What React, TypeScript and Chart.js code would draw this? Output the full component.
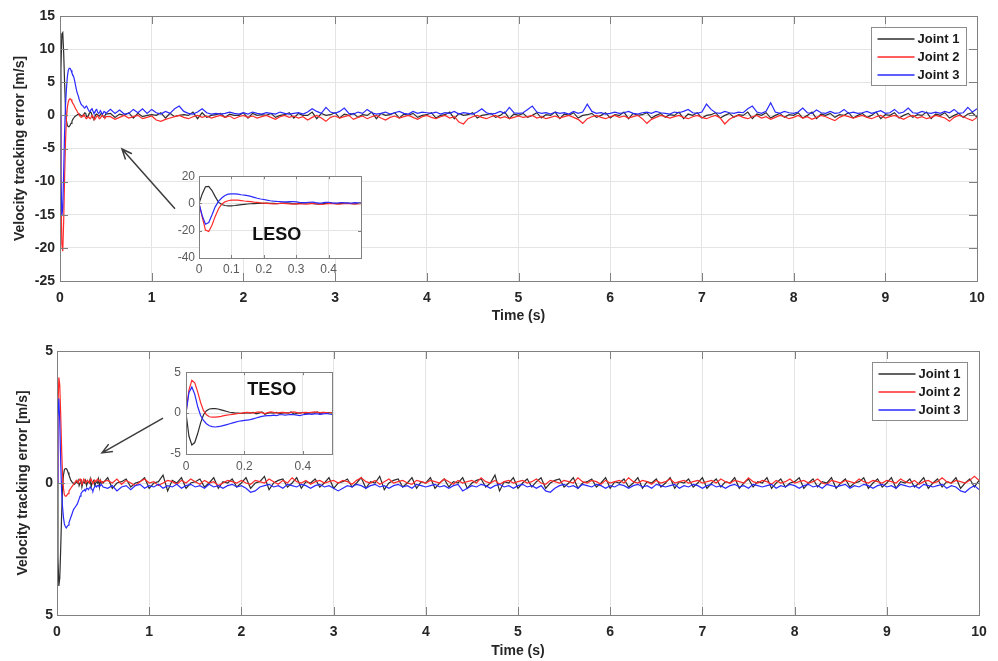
import React, { useEffect, useRef } from 'react';
import { Chart, registerables } from 'chart.js';
Chart.register(...registerables);

const FONT = "'Liberation Sans', Arial, sans-serif";

// ---------- time grids ----------
const tTransient = Array.from({ length: 51 }, (_, i) => i / 100); // 0 .. 0.50
const tSteady = Array.from({ length: 190 }, (_, i) => Math.round(55 + i * 5) / 100); // 0.55 .. 10.00

// ---------- axis ticks ----------
const timeTicks = [0, 1, 2, 3, 4, 5, 6, 7, 8, 9, 10];
const lesoYTicks = [-25, -20, -15, -10, -5, 0, 5, 10, 15];
const tesoYTicks = [-5, 0, 5];
const lesoInsetXTicks = [0, 0.1, 0.2, 0.3, 0.4];
const lesoInsetYTicks = [-40, -20, 0, 20];
const tesoInsetXTicks = [0, 0.2, 0.4];
const tesoInsetYTicks = [-5, 0, 5];
const jointNames = ['Joint 1', 'Joint 2', 'Joint 3'];

// ---------- LESO (top) ----------
const lesoJ1Transient = [
  0, 7, 12.3, 12.5, 9.5, 5, 1, -0.8, -1.5, -1.7,
  -1.7, -1.5, -1.2, -0.9, -0.6, -0.4, -0.2, -0.1, 0, 0.1,
  0.1, 0.2, 0.1, 0, -0.1, 0, 0.2, 0.4, 0.3, -0.2,
  -0.3, 0, 0.3, 0.5, 0.4, 0, -0.4, -0.5, -0.2, 0.1,
  0.2, 0.1, 0, -0.1, 0.1, 0.3, 0.2, -0.2, -0.3, 0,
  0.2,
];
const lesoJ2Transient = [
  0, -10, -19.5, -20.5, -16, -9.5, -4, -0.5, 1.2, 2.0,
  2.4, 2.5, 2.4, 2.1, 1.8, 1.6, 1.3, 1.0, 0.8, 0.5,
  0.3, 0.1, -0.2, -0.3, -0.2, 0, 0.1, -0.1, -0.4, -0.5,
  -0.3, -0.2, -0.4, -0.5, -0.3, 0, -0.2, -0.5, -0.6, -0.4,
  -0.1, 0, -0.3, -0.5, -0.4, -0.2, 0, -0.1, -0.3, -0.4,
  -0.2,
];
const lesoJ3Transient = [
  0, -9, -15.2, -14, -8.5, -2.5, 1.5, 4, 5.8, 6.8,
  7.1, 7.1, 6.8, 6.4, 6.1, 5.8, 5.2, 4.5, 3.8, 3.3,
  2.9, 2.4, 2.0, 1.7, 1.5, 1.4, 1.2, 1.1, 1.3, 1.4,
  1.1, 0.8, 0.6, 0.6, 0.9, 1.0, 0.6, 0.3, 0.4, 0.8,
  0.9, 0.5, 0.3, 0.4, 0.7, 0.5, 0.2, 0.3, 0.6, 0.5,
  0.3,
];
const lesoJ1Steady = [
  0.3, -0.3, 0.2, 0, 0.4, -0.4, 0.3, -0.2, 0, 0.1,
  0, 0.4, -0.4, 0.3, -0.2, 0, 0.1, 0, 0.5, -0.5, 0.4, -0.3, 0, 0.1, 0.3, -0.3, 0.2, 0, 0, 0.4,
  -0.4, 0.3, 0, 0.1, 0, 0.3, -0.3, 0, 0.1, 0.4, -0.4, 0.3, 0, 0, 0.5, -0.5, 0.3, 0, 0.1, 0.4,
  -0.4, 0.2, 0, 0.3, -0.3, 0.1, 0, 0.5, -0.5, 0.3, 0, 0.1, 0.4, -0.4, 0.2, 0, 0.3, -0.3, 0, 0.1,
  0.4, -0.4, 0, 0.1, 0.5, -0.5, 0.3, 0, 0.1, 0.4, -0.4, 0, 0.1, 0.3, -0.3, 0, 0.5, -0.5, 0.2, 0,
  0.3, -0.3, 0, 0.4, -0.4, 0.1, 0, 0.5, -0.5, 0.2, 0, 0.4, -0.4, 0, 0.1, 0.3, -0.3, 0, 0.4, -0.4,
  0.1, 0, 0.5, -0.5, 0.3, 0, 0.1, 0.4, -0.4, 0, 0.3, -0.3, 0.1, 0, 0.5, -0.5, 0.2, 0, 0.4, -0.4,
  0, 0.1, 0.4, -0.4, 0, 0.3, -0.3, 0.1, 0, 0.5, -0.5, 0.2, 0, 0.4, -0.4, 0, 0.3, -0.3, 0.1, 0,
  0.4, -0.4, 0, 0.5, -0.5, 0.2, 0, 0.3, -0.3, 0.1, 0, 0.4, -0.4, 0, 0.3, -0.3, 0, 0.5, -0.5, 0.1,
  0, 0.4, -0.4, 0, 0.3, -0.3, 0.1, 0, 0.5, -0.5, 0.2, 0, 0.4, -0.4, 0, 0.3, -0.3, 0.2, 0.4, -0.3,
];
const lesoJ2Steady = [
  -0.2, -0.6, -0.3, 0, -0.4, -0.2, 0, -0.5, -0.3, -0.1,
  -0.7, -0.9, -0.6, -0.4, -0.2, 0, -0.3, -0.5, -0.2, 0, -0.3, -0.1, -0.4, -0.2, 0, -0.3, -0.1, -0.5, -0.2, 0,
  -0.3, -0.1, -0.4, -0.2, 0, -0.3, -0.6, -0.2, 0, -0.3, -0.1, -0.4, -0.2, -0.7, -0.3, 0, -0.4, -0.9, -0.3, -0.1,
  -0.4, -0.2, 0, -0.6, -0.3, -0.1, -0.5, -0.2, 0, -0.4, -0.7, -0.3, -0.1, -0.4, -0.2, 0, -0.3, -0.6, -0.2, 0,
  -0.3, -0.5, -0.2, 0, -0.4, -0.2, -1.0, -1.3, -0.5, -0.2, 0, -0.3, -0.5, -0.2, 0, -0.4, -0.2, -0.5, -0.3, -0.1,
  -0.3, -0.2, 0, -0.4, -0.2, -0.5, -0.3, -0.1, -0.4, -0.2, 0, -0.3, -0.6, -1.2, -0.5, -0.2, 0, -0.3, -0.5, -0.2,
  0, -0.3, -0.1, -0.4, -0.2, 0, -0.5, -1.2, -0.6, -0.3, 0, -0.2, -0.4, -0.2, 0, -0.3, -0.5, -0.2, 0, -0.3,
  -0.5, -0.2, 0, -0.4, -1.3, -0.6, -0.2, 0, -0.3, -0.5, -0.2, 0, -0.4, -0.2, -0.6, -0.3, 0, -0.2, -0.5, -0.3,
  0, -0.4, -0.2, -0.6, -0.3, 0, -0.2, -0.5, -0.8, -0.3, 0, -0.2, -0.4, -0.2, 0, -0.3, -0.5, -0.2, 0, -0.4,
  -0.2, 0, -0.3, -0.6, -0.2, 0, -0.4, -0.2, -0.5, -0.3, 0, -0.2, -0.4, -0.9, -0.3, 0, -0.2, -0.5, -0.8, -0.3,
];
const lesoJ3Steady = [
  0.9, 0.3, 0.8, 0.2, 0.3, 0.9, 0.4, 1.0, 0.3, 0.9,
  0.4, 0.2, 0.6, 0.3, 1.0, 1.4, 0.6, 0.3, 0.2, 0.5, 1.0, 0.4, 0.2, 0.3, 0.2, 0.3, 0.5, 0.3, 0.2, 0.4,
  0.2, 0.5, 0.3, 0.2, 0.4, 0.3, 0.2, 0.5, 0.3, 0.2, 0.3, 0.4, 0.2, 0.5, 1.0, 0.6, 0.3, 1.2, 0.5, 0.3,
  0.6, 1.1, 0.3, 0.2, 0.5, 0.3, 0.9, 0.4, 0.2, 0.3, 0.5, 0.2, 0.4, 0.6, 0.3, 0.2, 0.6, 0.3, 0.5, 0.4,
  0.3, 0.5, 0.2, 0.4, 0.3, 0.6, 0.2, 0.4, 0.3, 0.2, 0.5, 1.0, 0.4, 0.2, 0.3, 0.6, 0.3, 1.2, 0.4, 0.3,
  0.4, 0.9, 1.4, 0.5, 0.3, 0.4, 0.2, 0.5, 0.3, 0.4, 0.2, 0.6, 0.3, 0.5, 1.7, 0.6, 0.3, 0.4, 0.2, 0.3,
  0.5, 0.3, 0.4, 0.6, 0.3, 0.2, 0.4, 0.5, 0.3, 0.6, 0.4, 0.3, 0.2, 0.5, 0.4, 0.6, 0.9, 0.4, 0.3, 0.5,
  1.7, 0.9, 0.4, 0.3, 0.6, 0.4, 0.3, 0.5, 0.4, 1.0, 1.4, 0.5, 0.3, 0.6, 1.9, 0.5, 0.3, 0.6, 0.4, 0.3,
  0.5, 1.1, 0.4, 0.3, 0.8, 0.4, 0.3, 0.6, 0.3, 0.4, 0.9, 0.3, 0.5, 0.3, 0.4, 0.6, 0.3, 0.5, 0.7, 0.3,
  0.4, 0.9, 0.3, 0.5, 1.1, 0.4, 0.3, 0.6, 0.4, 0.3, 0.5, 0.3, 0.6, 0.4, 0.9, 0.3, 0.4, 1.2, 0.5, 1.0,
];

// ---------- TESO (bottom) ----------
const tesoJ1Transient = [
  0, -2.8, -3.9, -3.6, -2.5, -1.2, -0.2, 0.3, 0.5, 0.55,
  0.55, 0.5, 0.4, 0.3, 0.2, 0.1, 0.05, 0, 0, -0.05,
  0, 0.05, 0, 0.1, -0.1, 0, 0.15, -0.15, 0, 0.05,
  0, 0.1, -0.1, 0, 0.05, 0, 0.15, -0.15, 0, 0,
  0.1, -0.1, 0, 0.05, 0, 0.15, -0.15, 0.1, 0, 0.05,
  0,
];
const tesoJ2Transient = [
  0, 2.8, 4.0, 3.7, 2.6, 1.3, 0.3, -0.2, -0.45, -0.5,
  -0.5, -0.45, -0.4, -0.3, -0.25, -0.2, -0.15, -0.1, -0.05, 0,
  0.05, 0.1, 0.05, 0, 0.1, 0.15, 0.05, -0.05, 0.05, 0.15,
  0.1, 0, 0.05, 0.1, 0.05, 0, 0.1, 0.15, 0.05, 0,
  0.05, 0.1, 0.05, 0.1, 0.15, 0.1, 0.05, 0.1, 0.05, 0,
  0.05,
];
const tesoJ3Transient = [
  0, 2.5, 3.2, 2.3, 0.8, -0.3, -0.9, -1.3, -1.55, -1.65,
  -1.7, -1.65, -1.6, -1.5, -1.4, -1.3, -1.2, -1.1, -1.0, -0.95,
  -0.9, -0.85, -0.8, -0.7, -0.6, -0.5, -0.4, -0.35, -0.3, -0.3,
  -0.25, -0.3, -0.2, -0.2, -0.25, -0.2, -0.15, -0.2, -0.25, -0.3,
  -0.2, -0.15, -0.1, -0.15, -0.1, -0.1, -0.15, -0.1, -0.05, -0.1,
  -0.15,
];
const tesoJ1Steady = [
  0.2, -0.2, 0, 0.05, 0.15, -0.15, 0, 0.05, 0.2, -0.2,
  0, 0.05, 0.3, -0.3, 0.1, 0, 0.2, -0.2, 0, 0.05, 0.15, -0.15, 0, 0.2, -0.2, 0.05, 0, 0.15, -0.15, 0,
  0.2, -0.2, 0, 0.05, 0.25, -0.25, 0, 0.1, 0.15, -0.15, 0, 0.2, -0.2, 0.05, 0, 0.15, -0.15, 0, 0.2, -0.2,
  0, 0.05, 0.15, -0.15, 0, 0.2, -0.2, 0.05, 0, 0.25, -0.25, 0, 0.1, 0.15, -0.15, 0, 0.2, -0.2, 0.05, 0,
  0.2, -0.2, 0, 0.15, -0.15, 0.05, 0, 0.2, -0.2, 0, 0.1, 0.15, -0.15, 0, 0.3, -0.3, 0.05, 0, 0.2, -0.2,
  0, 0.15, -0.15, 0.05, 0.2, -0.2, 0, 0.1, 0.15, -0.15, 0, 0.2, -0.2, 0, 0.05, 0.15, -0.15, 0, 0.2, -0.2,
  0.05, 0, 0.15, -0.15, 0, 0.2, -0.2, 0.05, 0, 0.15, -0.15, 0, 0.2, -0.2, 0.05, 0, 0.15, -0.15, 0, 0.2,
  -0.2, 0, 0.15, -0.15, 0.05, 0, 0.2, -0.2, 0, 0.15, -0.15, 0.05, 0, 0.2, -0.2, 0, 0.15, -0.15, 0, 0.05,
  0.2, -0.2, 0, 0.15, -0.15, 0.05, 0, 0.2, -0.2, 0, 0.15, -0.15, 0, 0.05, 0.2, -0.2, 0, 0.15, -0.15, 0,
  0.2, -0.2, 0.05, 0, 0.15, -0.15, 0, 0.2, -0.2, 0, 0.15, -0.15, 0.05, 0, 0.2, -0.2, 0, 0.15, -0.15, 0.1,
];
const tesoJ2Steady = [
  0.1, 0, 0.15, -0.05, 0.1, 0, -0.1, 0.05, 0.15, 0,
  0.05, -0.1, 0, 0.1, 0.05, -0.05, 0.1, 0, 0.15, 0.05, -0.05, 0.1, 0, 0.05, -0.1, 0, 0.1, 0.05, 0, 0.1,
  0, -0.05, 0.1, 0.05, 0, 0.15, 0.05, -0.05, 0.1, 0, 0.2, 0.05, 0, 0.1, -0.05, 0.05, 0.1, 0, 0.05, 0.1,
  0, 0.1, 0.05, -0.05, 0.1, 0.2, 0.05, 0, 0.1, -0.05, 0.05, 0.15, 0, 0.05, 0.1, 0, -0.05, 0.1, 0.05, 0,
  0.1, 0.05, 0, 0.15, 0.05, -0.05, 0.1, 0, 0.05, 0.1, 0, 0.2, 0.05, 0, 0.1, -0.05, 0.05, 0.1, 0, 0.05,
  0.1, 0, 0.05, 0.15, 0, -0.05, 0.1, 0.05, 0, 0.1, 0.05, 0, 0.2, 0.05, 0, 0.1, 0.05, -0.05, 0.1, 0,
  0.05, 0.1, 0, 0.2, 0.05, 0, 0.1, 0.05, -0.05, 0.1, 0, 0.05, 0.15, 0, 0.05, 0.1, 0, 0.05, 0.1, 0,
  0.05, 0.1, 0, 0.15, 0.05, 0, 0.1, 0.05, 0, 0.2, 0.05, 0, 0.1, 0.05, -0.05, 0.1, 0, 0.05, 0.15, 0,
  0.05, 0.1, 0, 0.05, 0.15, 0, -0.05, 0.1, 0.05, 0, 0.1, 0.05, 0, 0.15, 0.05, 0, 0.1, 0.05, 0, 0.1,
  0.05, 0, 0.15, 0.05, 0, 0.1, -0.05, 0.05, 0.1, 0, 0.05, 0.2, 0.05, 0, 0.1, 0.05, 0, 0.1, 0.25, 0.1,
];
const tesoJ3Steady = [
  -0.2, -0.1, -0.3, -0.15, -0.1, -0.25, -0.1, -0.05, -0.2, -0.1,
  -0.15, -0.05, -0.2, -0.1, -0.15, -0.05, -0.2, -0.1, -0.05, -0.15, -0.1, -0.2, -0.05, -0.15, -0.1, -0.2, -0.1, -0.05, -0.15, -0.1,
  -0.2, -0.35, -0.3, -0.15, -0.1, -0.05, -0.15, -0.1, -0.2, -0.05, -0.1, -0.15, -0.05, -0.1, -0.2, -0.1, -0.05, -0.15, -0.1, -0.2,
  -0.3, -0.2, -0.1, -0.15, -0.05, -0.1, -0.2, -0.1, -0.05, -0.15, -0.1, -0.2, -0.1, -0.05, -0.15, -0.1, -0.2, -0.05, -0.1, -0.15,
  -0.1, -0.05, -0.15, -0.1, -0.2, -0.1, -0.05, -0.3, -0.2, -0.1, -0.15, -0.05, -0.1, -0.2, -0.1, -0.05, -0.15, -0.1, -0.2, -0.1,
  -0.05, -0.15, -0.1, -0.2, -0.1, -0.3, -0.35, -0.2, -0.1, -0.05, -0.15, -0.1, -0.2, -0.05, -0.1, -0.15, -0.05, -0.1, -0.2, -0.1,
  -0.15, -0.05, -0.1, -0.2, -0.1, -0.05, -0.15, -0.1, -0.2, -0.05, -0.1, -0.15, -0.1, -0.05, -0.2, -0.1, -0.15, -0.05, -0.1, -0.2,
  -0.1, -0.05, -0.15, -0.1, -0.2, -0.1, -0.05, -0.15, -0.1, -0.2, -0.05, -0.1, -0.15, -0.1, -0.05, -0.2, -0.1, -0.15, -0.05, -0.1,
  -0.2, -0.1, -0.05, -0.15, -0.1, -0.2, -0.05, -0.1, -0.15, -0.1, -0.05, -0.2, -0.1, -0.15, -0.05, -0.1, -0.2, -0.1, -0.05, -0.15,
  -0.1, -0.2, -0.05, -0.1, -0.15, -0.1, -0.2, -0.05, -0.1, -0.15, -0.1, -0.05, -0.2, -0.1, -0.15, -0.3, -0.35, -0.2, -0.1, -0.25,
];

// ---------- annotations (data coordinates) ----------
const lesoArrow = { from: [1.254, -14.1], to: [0.676, -5.07] };
const tesoArrow = { from: [1.15, 2.46], to: [0.488, 1.14] };
const lesoLabel = { text: 'LESO', x: 0.24, y: -23.5 };
const tesoLabel = { text: 'TESO', x: 0.294, y: 2.86 };

// ---------- styles ----------
const COLORS = ['#2e2e2e', '#ff2a2a', '#2a2aff'];
const GRID = '#e4e4e4';
const FRAME = '#808080';
const TICK_TXT = '#262626';
const INSET_TXT = '#5a5a5a';

function series(trans: number[], steady: number[], withSteady = true) {
  const pts = tTransient.map((t, i) => ({ x: t, y: trans[i] }));
  if (withSteady) tSteady.forEach((t, i) => { if (steady[i] !== undefined) pts.push({ x: t, y: steady[i] }); });
  return pts;
}

function datasets(sets: { x: number; y: number }[][]) {
  return sets.map((d, i) => ({
    label: jointNames[i],
    data: d,
    borderColor: COLORS[i],
    borderWidth: 1.2,
    pointRadius: 0,
    tension: 0,
    order: 2 - i,
  }));
}

function framePlugin(tickLen: number) {
  return {
    id: 'frameTicks',
    beforeDraw(chart: any) {
      const { ctx, chartArea: a } = chart;
      ctx.save();
      ctx.fillStyle = '#ffffff';
      ctx.fillRect(a.left, a.top, a.right - a.left, a.bottom - a.top);
      ctx.restore();
    },
    afterDatasetsDraw(chart: any) {
      const { ctx, chartArea: a, scales } = chart;
      ctx.save();
      ctx.strokeStyle = FRAME;
      ctx.lineWidth = 1;
      ctx.beginPath();
      for (const t of scales.x.ticks) {
        const px = Math.round(scales.x.getPixelForValue(t.value)) + 0.5;
        ctx.moveTo(px, a.bottom); ctx.lineTo(px, a.bottom - tickLen);
        ctx.moveTo(px, a.top); ctx.lineTo(px, a.top + tickLen);
      }
      for (const t of scales.y.ticks) {
        const py = Math.round(scales.y.getPixelForValue(t.value)) + 0.5;
        ctx.moveTo(a.left, py); ctx.lineTo(a.left + tickLen, py);
        ctx.moveTo(a.right, py); ctx.lineTo(a.right - tickLen, py);
      }
      ctx.stroke();
      ctx.strokeRect(Math.round(a.left) + 0.5, Math.round(a.top) + 0.5,
        Math.round(a.right - a.left), Math.round(a.bottom - a.top));
      ctx.restore();
    },
  };
}

function legendPlugin(offRight: number, offTop: number) {
  return {
    id: 'boxLegend',
    afterDraw(chart: any) {
      const { ctx, chartArea: a } = chart;
      const w = 95, h = 58;
      const left = Math.round(a.right - offRight - w) + 0.5;
      const top = Math.round(a.top + offTop) + 0.5;
      ctx.save();
      ctx.fillStyle = '#ffffff';
      ctx.fillRect(left, top, w, h);
      ctx.strokeStyle = '#8c8c8c';
      ctx.lineWidth = 1;
      ctx.strokeRect(left, top, w, h);
      ctx.font = `bold 13px ${FONT}`;
      ctx.textBaseline = 'middle';
      ctx.fillStyle = '#1a1a1a';
      jointNames.forEach((name, i) => {
        const y = top + 11.5 + i * 18;
        ctx.strokeStyle = COLORS[i];
        ctx.lineWidth = 1.3;
        ctx.beginPath();
        ctx.moveTo(left + 6, y); ctx.lineTo(left + 43, y);
        ctx.stroke();
        ctx.fillText(name, left + 46, y + 0.5);
      });
      ctx.restore();
    },
  };
}

function arrowPlugin(arrow: { from: number[]; to: number[] }) {
  return {
    id: 'arrow',
    afterDraw(chart: any) {
      const { ctx, scales: { x, y } } = chart;
      const x0 = x.getPixelForValue(arrow.from[0]), y0 = y.getPixelForValue(arrow.from[1]);
      const x1 = x.getPixelForValue(arrow.to[0]), y1 = y.getPixelForValue(arrow.to[1]);
      const ang = Math.atan2(y1 - y0, x1 - x0);
      const len = 11, spread = 0.4;
      ctx.save();
      ctx.strokeStyle = '#3c3c3c';
      ctx.lineWidth = 1.5;
      ctx.beginPath();
      ctx.moveTo(x0, y0); ctx.lineTo(x1, y1);
      ctx.moveTo(x1 - len * Math.cos(ang - spread), y1 - len * Math.sin(ang - spread));
      ctx.lineTo(x1, y1);
      ctx.lineTo(x1 - len * Math.cos(ang + spread), y1 - len * Math.sin(ang + spread));
      ctx.stroke();
      ctx.restore();
    },
  };
}

function labelPlugin(lbl: { text: string; x: number; y: number }) {
  return {
    id: 'insetLabel',
    afterDraw(chart: any) {
      const { ctx, scales: { x, y } } = chart;
      ctx.save();
      ctx.font = `bold 18px ${FONT}`;
      ctx.fillStyle = '#111111';
      ctx.textAlign = 'center';
      ctx.textBaseline = 'middle';
      ctx.fillText(lbl.text, x.getPixelForValue(lbl.x), y.getPixelForValue(lbl.y));
      ctx.restore();
    },
  };
}

function mainConfig(opts: any) {
  const tickFont = { family: FONT, size: 14, weight: 'bold' as const };
  return {
    type: 'line',
    data: { datasets: datasets(opts.sets) },
    options: {
      responsive: false,
      animation: false,
      devicePixelRatio: 1,
      events: [],
      layout: { padding: opts.padding },
      plugins: { legend: { display: false }, tooltip: { enabled: false } },
      scales: {
        x: {
          type: 'linear', min: 0, max: 10,
          afterBuildTicks: (s: any) => { s.ticks = timeTicks.map((v) => ({ value: v })); },
          afterFit: (s: any) => { s.height = opts.xHeight; },
          grid: { color: GRID, drawTicks: false, lineWidth: 1 },
          border: { display: false },
          ticks: { font: tickFont, color: TICK_TXT, padding: 9, maxRotation: 0, autoSkip: false, callback: (v: number) => String(v) },
          title: { display: true, text: 'Time (s)', font: tickFont, color: TICK_TXT, padding: { top: 0, bottom: opts.xTitlePad } },
        },
        y: {
          type: 'linear', min: opts.yMin, max: opts.yMax,
          afterBuildTicks: (s: any) => { s.ticks = opts.yTicks.map((v: number) => ({ value: v })); },
          afterFit: (s: any) => { s.width = opts.yWidth; },
          grid: { color: GRID, drawTicks: false, lineWidth: 1 },
          border: { display: false },
          ticks: { font: tickFont, color: TICK_TXT, padding: opts.yTickPad, autoSkip: false, callback: opts.yLabel },
          title: { display: true, text: 'Velocity tracking error [m/s]', font: tickFont, color: TICK_TXT, padding: { top: opts.yTitlePad, bottom: 0 } },
        },
      },
    },
    plugins: [framePlugin(8), arrowPlugin(opts.arrow), legendPlugin(opts.legendRight, 11)],
  };
}

function insetConfig(opts: any) {
  const tickFont = { family: FONT, size: 12 };
  return {
    type: 'line',
    data: { datasets: datasets(opts.sets) },
    options: {
      responsive: false,
      animation: false,
      devicePixelRatio: 1,
      events: [],
      layout: { padding: opts.padding },
      plugins: { legend: { display: false }, tooltip: { enabled: false } },
      scales: {
        x: {
          type: 'linear', min: 0, max: 0.5,
          afterBuildTicks: (s: any) => { s.ticks = opts.xTicks.map((v: number) => ({ value: v })); },
          afterFit: (s: any) => { s.height = opts.xHeight; },
          grid: { color: GRID, drawTicks: false, lineWidth: 1 },
          border: { display: false },
          ticks: { font: tickFont, color: INSET_TXT, padding: opts.xTickPad, maxRotation: 0, autoSkip: false, callback: (v: number) => String(v) },
        },
        y: {
          type: 'linear', min: opts.yMin, max: opts.yMax,
          afterBuildTicks: (s: any) => { s.ticks = opts.yTicks.map((v: number) => ({ value: v })); },
          afterFit: (s: any) => { s.width = opts.yWidth; },
          grid: { color: GRID, drawTicks: false, lineWidth: 1 },
          border: { display: false },
          ticks: { font: tickFont, color: INSET_TXT, padding: opts.yTickPad, autoSkip: false, callback: (v: number) => String(v) },
        },
      },
    },
    plugins: [framePlugin(3), labelPlugin(opts.label)],
  };
}

export default function App() {
  const topRef = useRef<HTMLCanvasElement>(null);
  const botRef = useRef<HTMLCanvasElement>(null);
  const lesoRef = useRef<HTMLCanvasElement>(null);
  const tesoRef = useRef<HTMLCanvasElement>(null);

  useEffect(() => {
    const lesoSets = [
      series(lesoJ1Transient, lesoJ1Steady),
      series(lesoJ2Transient, lesoJ2Steady),
      series(lesoJ3Transient, lesoJ3Steady),
    ];
    const tesoSets = [
      series(tesoJ1Transient, tesoJ1Steady),
      series(tesoJ2Transient, tesoJ2Steady),
      series(tesoJ3Transient, tesoJ3Steady),
    ];
    const charts: Chart[] = [];
    charts.push(new Chart(topRef.current as any, mainConfig({
      sets: lesoSets, padding: { top: 16, right: 21, left: 0, bottom: 0 },
      xHeight: 49, yWidth: 60, yMin: -25, yMax: 15, yTicks: lesoYTicks,
      yTickPad: 5, yTitlePad: 12, xTitlePad: 5,
      yLabel: (v: number) => String(v), arrow: lesoArrow, legendRight: 11,
    }) as any));
    charts.push(new Chart(botRef.current as any, mainConfig({
      sets: tesoSets, padding: { top: 21, right: 19, left: 0, bottom: 0 },
      xHeight: 46, yWidth: 57, yMin: -5, yMax: 5, yTicks: tesoYTicks,
      yTickPad: 4, yTitlePad: 15, xTitlePad: 1,
      yLabel: (v: number) => String(Math.abs(v)), arrow: tesoArrow, legendRight: 12,
    }) as any));
    charts.push(new Chart(lesoRef.current as any, insetConfig({
      sets: lesoSets.map((s) => s.filter((p) => p.x <= 0.5)),
      padding: { top: 9, right: 9, left: 0, bottom: 0 },
      xHeight: 22, yWidth: 49, yMin: -40, yMax: 20,
      xTicks: lesoInsetXTicks, yTicks: lesoInsetYTicks,
      xTickPad: 4, yTickPad: 4, label: lesoLabel,
    }) as any));
    charts.push(new Chart(tesoRef.current as any, insetConfig({
      sets: tesoSets.map((s) => s.filter((p) => p.x <= 0.5)),
      padding: { top: 10, right: 8, left: 0, bottom: 0 },
      xHeight: 21, yWidth: 46, yMin: -5, yMax: 5,
      xTicks: tesoInsetXTicks, yTicks: tesoInsetYTicks,
      xTickPad: 5, yTickPad: 5, label: tesoLabel,
    }) as any));
    return () => charts.forEach((c) => c.destroy());
  }, []);

  const abs = (left: number, top: number) => ({ position: 'absolute' as const, left, top });
  return (
    <div style={{ position: 'absolute', left: 0, top: 0, width: 998, height: 661, overflow: 'hidden', background: '#ffffff' }}>
      <canvas ref={topRef} width={998} height={330} style={abs(0, 0)} />
      <canvas ref={botRef} width={998} height={331} style={abs(0, 330)} />
      <canvas ref={lesoRef} width={220} height={115} style={abs(150, 165)} />
      <canvas ref={tesoRef} width={200} height={115} style={abs(140, 360)} />
    </div>
  );
}
